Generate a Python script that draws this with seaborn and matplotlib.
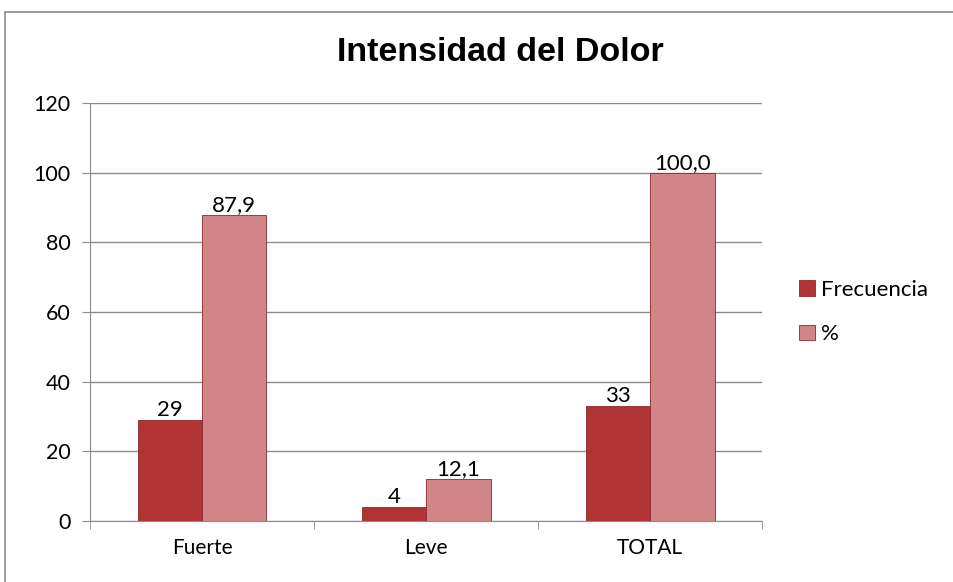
import matplotlib.pyplot as plt
import matplotlib.lines as mlines
import numpy as np
import pandas as pd
import seaborn as sns

categories = ['Fuerte', 'Leve', 'TOTAL']
frecuencia = [29, 4, 33]
porcentaje = [87.9, 12.1, 100.0]
series = ['Frecuencia', '%']

df = pd.DataFrame({
    'cat': categories * 2,
    'serie': [series[0]] * 3 + [series[1]] * 3,
    'valor': frecuencia + porcentaje,
})

sns.set_style('white')
plt.rcParams['font.family'] = ['Lato', 'DejaVu Sans']
plt.rcParams['text.color'] = 'black'
plt.rcParams['xtick.color'] = 'black'
plt.rcParams['ytick.color'] = 'black'

fig = plt.figure(figsize=(9.54, 5.82), dpi=100)
ax = fig.add_axes([0.0943, 0.1048, 0.7047, 0.7182])

palette = {'Frecuencia': '#B23333', '%': '#D28587'}
sns.barplot(data=df, x='cat', y='valor', hue='serie', palette=palette,
            width=0.575, saturation=1, ax=ax, zorder=3,
            edgecolor='#8a2a2a', linewidth=0.6)

for cont, serie in zip(ax.containers, series):
    if serie == 'Frecuencia':
        labels = [str(v) for v in frecuencia]
    else:
        labels = [f'{v:.1f}'.replace('.', ',') for v in porcentaje]
    ax.bar_label(cont, labels=labels, padding=0, fontsize=16, color='black')

ax.set_ylim(0, 120)
ax.set_yticks(range(0, 121, 20))
ax.set_xlim(-0.5, 2.5)
ax.yaxis.grid(True, color='#8c8c8c', linewidth=1)
ax.set_axisbelow(True)
for s in ['top', 'right']:
    ax.spines[s].set_visible(False)
for s in ['left', 'bottom']:
    ax.spines[s].set_color('#8c8c8c')
ax.set_xlabel('')
ax.set_ylabel('')
ax.tick_params(axis='y', length=6, color='#8c8c8c', labelcolor='black', direction='out',
               left=True, labelsize=15.5, pad=8)
ax.tick_params(axis='x', which='major', length=0, labelcolor='black', labelsize=15, pad=12)
ax.set_xticks([-0.5, 0.5, 1.5, 2.5], minor=True)
ax.tick_params(axis='x', which='minor', length=6, color='#8c8c8c', direction='out', bottom=True)

leg = ax.legend(loc='center left', bbox_to_anchor=(1.025, 0.5), frameon=False,
                fontsize=16, handlelength=0.7, handleheight=0.7,
                handletextpad=0.3, labelspacing=1.1)
for t in leg.get_texts():
    t.set_color('black')

fig.text(0.525, 0.91, 'Intensidad del Dolor', ha='center', va='center',
         fontsize=24.5, fontweight='bold', family='Liberation Sans', color='black')

fig.add_artist(mlines.Line2D([5 / 954, 5 / 954], [0, 1 - 12 / 582],
                             transform=fig.transFigure, color='#8c8c8c', linewidth=1.2))
fig.add_artist(mlines.Line2D([5 / 954, 1], [1 - 12 / 582, 1 - 12 / 582],
                             transform=fig.transFigure, color='#8c8c8c', linewidth=1.2))

fig.savefig('out.png', dpi=100)
